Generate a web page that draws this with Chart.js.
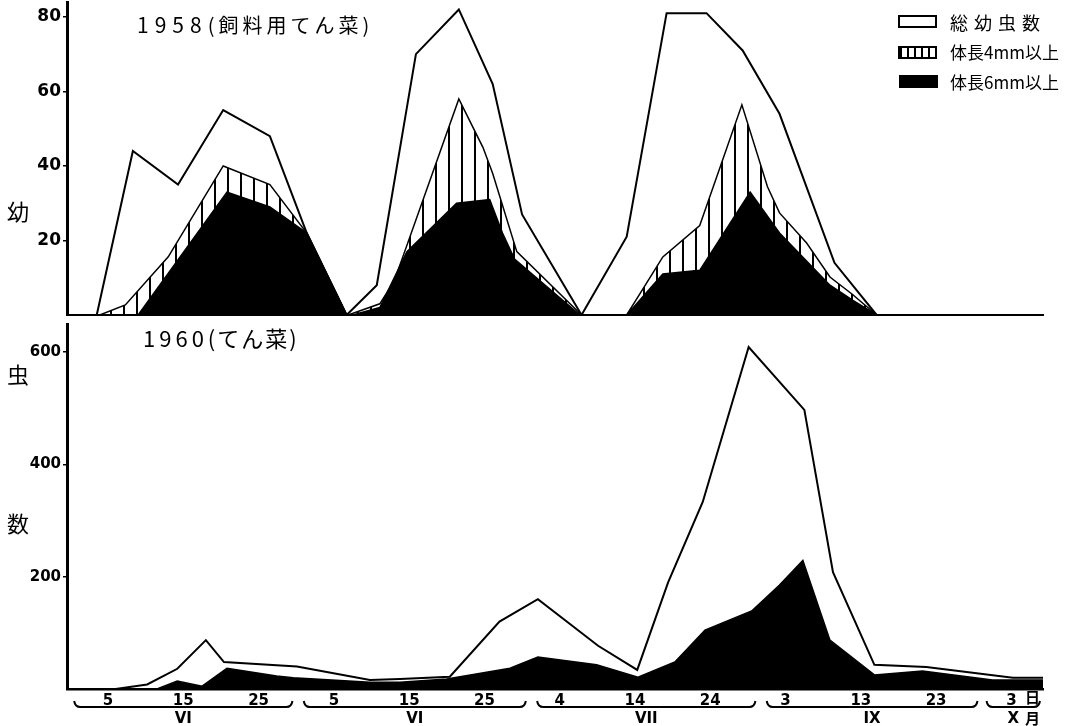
<!DOCTYPE html>
<html>
<head>
<meta charset="utf-8">
<script src="https://cdn.jsdelivr.net/npm/chart.js@4.4.1/dist/chart.umd.min.js"></script>
<style>
body { margin: 0; background: #fff; width: 1076px; height: 726px; position: relative; overflow: hidden; font-family: "Noto Sans CJK JP", sans-serif; color: #000; }
canvas { position: absolute; left: 0; }
#top { top: 0; }
#bottom { top: 318px; }
.t { position: absolute; white-space: nowrap; line-height: 1; }
.box { position: absolute; width: 39px; height: 13px; border: 2px solid #000; box-sizing: border-box; }
</style>
</head>
<body>
<canvas id="top" width="1076" height="318"></canvas>
<canvas id="bottom" width="1076" height="408"></canvas>

<div class="t" style="left:137px;top:14px;font-size:21px"><span style="letter-spacing:6px">1958</span><span style="font-size:20px;letter-spacing:4px">(飼料用てん菜)</span></div>
<div class="t" style="left:143px;top:326px;font-size:22px"><span style="letter-spacing:4px">1960</span><span style="letter-spacing:2px">(てん菜)</span></div>

<div class="t" style="left:7px;top:199px;font-size:22px">幼</div>
<div class="t" style="left:7px;top:362px;font-size:22px">虫</div>
<div class="t" style="left:7px;top:511px;font-size:22px">数</div>

<div class="box" style="left:898px;top:15px;background:#fff"></div>
<div class="t" style="left:950px;top:13px;font-size:18px;letter-spacing:6px">総幼虫数</div>
<div class="box" style="left:898px;top:46px;background:repeating-linear-gradient(90deg,#000 0 2px,#fff 2px 7px)"></div>
<div class="t" style="left:950px;top:43px;font-size:17px">体長4mm以上</div>
<div class="box" style="left:899px;top:75px;background:#000"></div>
<div class="t" style="left:950px;top:73px;font-size:17px">体長6mm以上</div>

<div class="t" style="left:1025px;top:689px;font-size:15px;font-weight:bold">日</div>
<div class="t" style="left:1025px;top:710px;font-size:15px;font-weight:bold">月</div>

<script>
// x values are days counted from 31 May (VI 5 = 5, VII 5 = 35, ...)
const xMin = -0.45;
const xMax = 129.2;

// 1958 (飼料用てん菜)
const total58Days = [-0.45, 3.5, 8.3, 14.3, 20.3, 26.5, 31.4, 36.7, 40.7, 45.9, 51.6, 56.1, 60.0, 67.9, 73.9, 79.2, 84.5, 89.3, 94.2, 101.5, 107.1, 129.2];
const total58Vals = [0, 0, 44, 35, 55, 48, 22, 0, 8, 70, 82, 62, 27, 0, 21, 81, 81, 71, 54, 14, 0, 0];
const mm4Days58 = [3.9, 7.3, 13.0, 20.3, 26.5, 31.4, 36.7, 36.9, 41.1, 43.0, 51.6, 54.8, 56.1, 59.3, 67.9, 73.9, 78.7, 83.6, 89.2, 92.6, 94.2, 97.8, 100.9, 103.9, 107.1];
const mm4Vals58 = [0, 2.7, 15.6, 40, 35, 22, 0, 0, 3, 9, 58, 45, 38, 17, 0, 0, 15.6, 24, 56.4, 34.4, 27.4, 19.3, 10.2, 5.5, 0];
const mm6Days58 = [9.0, 20.8, 26.5, 31.4, 36.7, 37.5, 41.1, 44.7, 51.3, 55.7, 57.4, 59.0, 67.7, 73.9, 78.7, 83.6, 90.3, 94.2, 100.9, 103.9, 107.1];
const mm6Vals58 = [0, 33, 29, 22, 0, 0, 2, 17, 30, 31, 22, 15, 0, 0, 11, 12, 33, 22, 8, 4, 0];
const yTicks58 = [20, 40, 60, 80];

// 1960 (てん菜)
const total60Days = [-0.45, 6, 10.2, 14.2, 18.0, 20.4, 30.1, 39.8, 43.8, 50.4, 57.0, 62.1, 70.1, 75.3, 79.4, 84.0, 90.1, 97.5, 101.3, 106.8, 113.7, 125.2, 129.2];
const total60Vals = [0, 0, 8, 36, 87, 48, 40, 16, 18, 22, 120, 160, 77, 34, 190, 333, 609, 497, 208, 43, 39, 20, 20];
const mm6Days60 = [-0.45, 11.5, 14.2, 17.5, 20.8, 27.4, 29.6, 39.8, 43.8, 50.0, 58.4, 62.1, 69.9, 75.4, 80.3, 84.3, 90.5, 94.2, 97.3, 100.9, 106.8, 113.2, 122.5, 129.2];
const mm6Vals60 = [0, 0, 14, 5, 37, 23, 20, 12, 12, 18, 37, 57, 43, 21, 48, 105, 139, 185, 229, 87, 25, 32, 16, 16];
const yTicks60 = [200, 400, 600];

// x axis labels
const tickDays = [5, 15, 25, 35, 45, 55, 65, 75, 85, 95, 105, 115, 125];
const tickLabels = ['5', '15', '25', '5', '15', '25', '4', '14', '24', '3', '13', '23', '3'];
const monthNames = ['VI', 'VI', 'VII', 'IX', 'X'];
const monthFrom = [0.5, 31, 62, 92.5, 121.7];
const monthTo = [29.5, 60.5, 91, 120.5, 128.8];

const pts = (xs, ys) => xs.map((x, i) => ({ x: x, y: ys[i] }));

const topCanvas = document.getElementById('top');
const hatchTile = document.createElement('canvas');
hatchTile.width = 13;
hatchTile.height = 13;
const hg = hatchTile.getContext('2d');
hg.fillStyle = '#fff';
hg.fillRect(0, 0, 13, 13);
hg.fillStyle = '#000';
hg.fillRect(6, 0, 2, 13);
const hatch = topCanvas.getContext('2d').createPattern(hatchTile, 'repeat');

const lineSet = (label, data, fill, width) => ({
    label: label,
    data: data,
    borderColor: '#000',
    backgroundColor: fill,
    borderWidth: width,
    fill: 'origin',
    pointRadius: 0,
    tension: 0
});

const yAxis = (max, ticks, fontSize) => ({
    min: 0,
    max: max,
    afterBuildTicks: s => { s.ticks = ticks.map(v => ({ value: v })); },
    afterFit: s => { s.width = 67; s.paddingTop = 0; s.paddingBottom = 0; },
    ticks: { color: '#000', padding: 2, font: { family: 'DejaVu Sans', size: fontSize, weight: 'bold' } },
    grid: { drawOnChartArea: false, color: '#000', lineWidth: 1.5, tickLength: 4 },
    border: { color: '#000', width: 3, z: 1 }
});

new Chart(topCanvas, {
    type: 'line',
    data: {
        datasets: [
            lineSet('体長6mm以上', pts(mm6Days58, mm6Vals58), '#000', 1.5),
            lineSet('体長4mm以上', pts(mm4Days58, mm4Vals58), hatch, 1.5),
            lineSet('総幼虫数', pts(total58Days, total58Vals), '#fff', 2)
        ]
    },
    options: {
        responsive: false,
        animation: false,
        devicePixelRatio: 1,
        layout: { padding: { left: 0, right: 33, top: 2, bottom: 3 } },
        plugins: { legend: { display: false }, tooltip: { enabled: false } },
        scales: {
            x: {
                type: 'linear', min: xMin, max: xMax,
                ticks: { display: false },
                grid: { display: false, drawTicks: false },
                border: { color: '#000', width: 2, z: 1 },
                afterFit: s => { s.height = 0; s.paddingLeft = 0; s.paddingRight = 0; }
            },
            y: yAxis(84, yTicks58, 17)
        }
    }
});

const monthBrackets = {
    id: 'monthBrackets',
    afterDraw(chart) {
        const ctx = chart.ctx;
        const x = chart.scales.x;
        const yb = 389;
        ctx.save();
        ctx.strokeStyle = '#000';
        ctx.fillStyle = '#000';
        ctx.lineWidth = 2;
        ctx.font = 'bold 15px "DejaVu Sans"';
        ctx.textAlign = 'center';
        ctx.textBaseline = 'middle';
        monthNames.forEach((m, i) => {
            const a = x.getPixelForValue(monthFrom[i]);
            const b = x.getPixelForValue(monthTo[i]);
            ctx.beginPath();
            ctx.moveTo(a, yb - 6);
            ctx.quadraticCurveTo(a + 1, yb, a + 6, yb);
            ctx.lineTo(b - 6, yb);
            ctx.quadraticCurveTo(b - 1, yb, b, yb - 6);
            ctx.stroke();
            ctx.fillText(m, (a + b) / 2, 401);
        });
        ctx.restore();
    }
};

new Chart(document.getElementById('bottom'), {
    type: 'line',
    data: {
        datasets: [
            lineSet('体長6mm以上', pts(mm6Days60, mm6Vals60), '#000', 1.5),
            lineSet('総幼虫数', pts(total60Days, total60Vals), '#fff', 2)
        ]
    },
    options: {
        responsive: false,
        animation: false,
        devicePixelRatio: 1,
        layout: { padding: { left: 0, right: 33, top: 6, bottom: 0 } },
        plugins: { legend: { display: false }, tooltip: { enabled: false } },
        scales: {
            x: {
                type: 'linear', min: xMin, max: xMax,
                afterBuildTicks: s => { s.ticks = tickDays.map(v => ({ value: v })); },
                afterFit: s => { s.height = 37; s.paddingLeft = 0; s.paddingRight = 0; },
                ticks: {
                    color: '#000', padding: 3, maxRotation: 0, autoSkip: false,
                    font: { family: 'DejaVu Sans', size: 15, weight: 'bold' },
                    callback: (v, i) => tickLabels[i]
                },
                grid: { display: false, drawTicks: false },
                border: { color: '#000', width: 2.5, z: 1 }
            },
            y: yAxis(650, yTicks60, 15)
        }
    },
    plugins: [monthBrackets]
});
</script>
</body>
</html>
